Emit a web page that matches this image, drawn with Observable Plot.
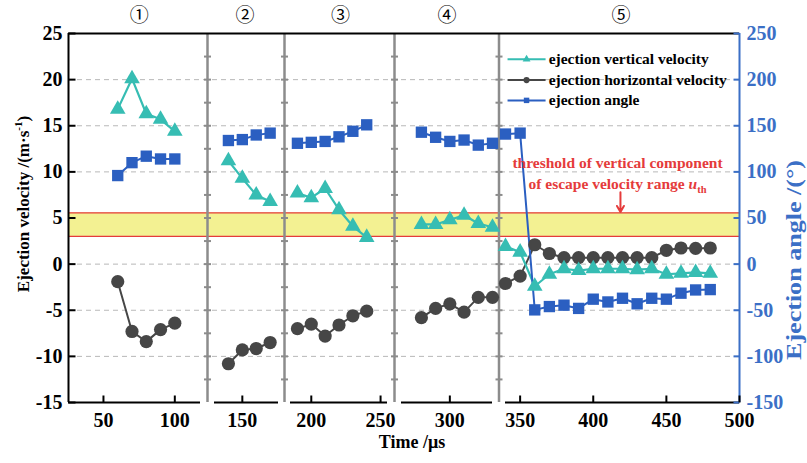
<!DOCTYPE html>
<html>
<head>
<meta charset="utf-8">
<script src="https://cdn.jsdelivr.net/npm/d3@7"></script>
<script src="https://cdn.jsdelivr.net/npm/@observablehq/plot@0.6"></script>
<style>
  html, body { margin: 0; padding: 0; background: #fff; }
  #chart svg { display: block; }
</style>
</head>
<body>
<div id="chart"></div>
<script>
// ---------------- data ----------------
const time = [60,70,80,90,100, 140,150,160,170, 190,200,210,220,230,240, 280,290,300,310,320,330,
              340,350,360,370,380,390,400,410,420,430,440,450,460,470,480];
const stage = [1,1,1,1,1, 2,2,2,2, 3,3,3,3,3,3, 4,4,4,4,4,4,
               5,5,5,5,5,5,5,5,5,5,5,5,5,5,5];
const verticalVelocity = [16.8,20.1,16.3,15.7,14.4, 11.2,9.3,7.5,6.8, 7.7,7.2,8.2,5.9,4.1,2.9, 4.3,4.3,4.8,5.3,4.4,4.0,
              1.9,1.3,-2.4,-1.1,-0.5,-0.7,-0.5,-0.5,-0.5,-0.6,-0.5,-1.1,-1.0,-0.9,-1.0];
const horizontalVelocity = [-1.9,-7.3,-8.4,-7.1,-6.4, -10.8,-9.3,-9.15,-8.5, -7.0,-6.5,-7.8,-6.6,-5.6,-5.1, -5.8,-4.8,-4.3,-5.2,-3.6,-3.6,
              -2.1,-1.3,2.1,1.15,0.7,0.7,0.7,0.7,0.7,0.7,0.7,1.5,1.75,1.7,1.75];
const ejectionAngle = [96,110,117,114,114, 134,135,140,142, 131,132,133,138,144,151, 143,137.5,133,134.5,129,131,
              141,142,-49.6,-46,-44.5,-48,-38,-41,-37,-43,-37,-38,-31.5,-28,-27.6];

const stageLabels = ["①","②","③","④","⑤"];
const stageLabelTime = [75, 152, 221, 298, 419];
const velocityTicks = [-15,-10,-5,0,5,10,15,20,25];
const gridTicks = [-10,-5,0,5,10,15,20];
const timeTicks = [50,100,150,200,250,300,350,400,450,500];
const breakTicks = [-12.5,-10,-7.5,-5,-2.5,0,2.5,5,7.5,10,12.5,15,17.5,20,22.5];
const thresholdRange = [3.0, 5.55];

const seriesNames = ["ejection vertical velocity","ejection horizontal velocity","ejection angle"];
const yTitle = "Ejection velocity /(m·s-1)";
const y2Title = "Ejection angle /(°)";
const xTitle = "Time /μs";
const noteLine1 = "threshold of vertical component";
const noteLine2 = "of escape velocity range uth";

// ---------------- layout (broken time axis) ----------------
const panelTime   = [[25.5,118],[130,176],[185,255],[266,330],[340,500]];
const panelPixels = [[68,200],[214,278],[290,387],[401,492],[505,739]];
const breaks = panelTime.slice(1).map((p, i) => (panelTime[i][1] + p[0]) / 2);
const xDomain = panelTime.flat();
const xRange = panelPixels.flat();
const xMin = xDomain[0], xMax = xDomain[xDomain.length - 1];

const legendTime = {line: [341.4, 367.4], marker: 354.4, text: 369.5};
const legendY = [22.2, 19.95, 17.75];
const note = {x: 416.6, y1: 11.0, y2: 8.72, arrowX: 418.6, arrowTop: 7.8};

// ---------------- styles ----------------
const teal = "#36bdb3", gray = "#464646", blue = "#2b5fc1", axisBlue = "#3b6fc6";
const red = "#e53b3b", bandFill = "#f3f192", breakGray = "#8c8c8c";
const serif = "'Liberation Serif','Times New Roman',serif";

const rows = time.map((t, i) => ({
  time: t, stage: stage[i],
  v: verticalVelocity[i], h: horizontalVelocity[i], angle: ejectionAngle[i]
}));

const hTick = {draw(ctx) { ctx.moveTo(-3.5, 0); ctx.lineTo(3.5, 0); }};
const tickRight = {draw(ctx) { ctx.moveTo(0, 0); ctx.lineTo(7, 0); }};
const tickLeft = {draw(ctx) { ctx.moveTo(0, 0); ctx.lineTo(-6, 0); }};
const tickUp = {draw(ctx) { ctx.moveTo(0, 0); ctx.lineTo(0, -7); }};

const legend = [
  {name: seriesNames[0], color: teal, symbol: "triangle", r: 5.6},
  {name: seriesNames[1], color: gray, symbol: "circle", r: 6.3},
  {name: seriesNames[2], color: blue, symbol: "square", r: 6.2}
].map((d, i) => ({...d, y: legendY[i]}));

const plot = Plot.plot({
  width: 807,
  height: 463,
  marginLeft: 68,
  marginRight: 68,
  marginTop: 33,
  marginBottom: 61,
  style: {fontFamily: serif, background: "#fff"},
  x: {type: "linear", domain: xDomain, range: xRange},
  y: {domain: [-15, 25]},
  marks: [
    Plot.gridY(gridTicks, {stroke: "#9a9a9a", strokeOpacity: 0.7, strokeDasharray: "5,4", strokeWidth: 1}),
    Plot.rect([thresholdRange], {x1: () => xMin, x2: () => xMax, y1: d => d[0], y2: d => d[1], fill: bandFill}),
    Plot.ruleY(thresholdRange, {stroke: red, strokeWidth: 1.3}),
    // broken-axis separators
    Plot.ruleX(breaks, {stroke: breakGray, strokeWidth: 2.5}),
    Plot.dot(d3.cross(breaks, breakTicks), {x: d => d[0], y: d => d[1], symbol: hTick, stroke: breakGray, strokeWidth: 2, fill: "none"}),
    // series
    Plot.line(rows, {x: "time", y: "h", z: "stage", stroke: gray, strokeWidth: 2}),
    Plot.line(rows, {x: "time", y: "v", z: "stage", stroke: teal, strokeWidth: 2.2}),
    Plot.line(rows, {x: "time", y: d => d.angle / 10, z: "stage", stroke: blue, strokeWidth: 2}),
    Plot.dot(rows, {x: "time", y: "h", symbol: "circle", r: 6.6, fill: gray}),
    Plot.dot(rows, {x: "time", y: "v", symbol: "triangle", r: 5.8, fill: teal}),
    Plot.dot(rows, {x: "time", y: d => d.angle / 10, symbol: "square", r: 6.4, fill: blue}),
    // frame
    Plot.ruleY([25], {stroke: "#000", strokeWidth: 2}),
    Plot.ruleY(panelTime, {y: () => -15, x1: d => d[0], x2: d => d[1], stroke: "#000", strokeWidth: 2}),
    Plot.ruleX([xMin], {stroke: "#000", strokeWidth: 2}),
    Plot.ruleX([xMax], {stroke: axisBlue, strokeWidth: 2}),
    Plot.dot(velocityTicks, {x: () => xMin, y: d => d, symbol: tickRight, stroke: "#000", strokeWidth: 2, fill: "none"}),
    Plot.dot(velocityTicks, {x: () => xMax, y: d => d, symbol: tickLeft, stroke: axisBlue, strokeWidth: 2, fill: "none"}),
    Plot.dot(timeTicks, {x: d => d, y: () => -15, symbol: tickUp, stroke: "#000", strokeWidth: 2, fill: "none"}),
    // axis labels
    Plot.axisY({ticks: velocityTicks, tickFormat: d => String(d), tickSize: 0, tickPadding: 6, fontSize: 20, fontWeight: "bold", label: null}),
    Plot.axisY({anchor: "right", ticks: velocityTicks, tickFormat: d => String(d * 10), tickSize: 0, tickPadding: 7,
                color: axisBlue, fontSize: 20, fontWeight: "bold", label: null}),
    Plot.axisX({ticks: timeTicks, tickFormat: d => String(d), tickSize: 0, tickPadding: 10, fontSize: 20, fontWeight: "bold", label: null}),
    // titles
    Plot.text([yTitle], {text: d => d, frameAnchor: "left", textAnchor: "middle", lineAnchor: "middle",
                dx: -45, dy: -14, rotate: -90, fontSize: 17, fontWeight: "bold", fill: "#000"}),
    Plot.text([y2Title], {text: d => d, frameAnchor: "right", textAnchor: "middle", lineAnchor: "middle",
                dx: 55, dy: 42, rotate: -90, fontSize: 21, fontWeight: "bold", fill: axisBlue}),
    Plot.text([xTitle], {text: d => d, frameAnchor: "bottom", textAnchor: "middle", lineAnchor: "middle",
                dx: 8, dy: 40, fontSize: 18, fontWeight: "bold", fill: "#000"}),
    // stage markers
    Plot.text(stageLabels, {x: (d, i) => stageLabelTime[i], y: () => 25, dy: -18, text: d => d,
                fontFamily: "'Noto Sans CJK SC'", fontSize: 19, fill: "#000"}),
    // legend
    Plot.link(legend, {x1: () => legendTime.line[0], x2: () => legendTime.line[1], y1: "y", y2: "y", stroke: "color", strokeWidth: 2}),
    Plot.dot(legend, {x: () => legendTime.marker, y: "y", symbol: "symbol", r: "r", fill: "color"}),
    Plot.text(legend, {x: () => legendTime.text, y: "y", text: "name", textAnchor: "start", fontSize: 15.5, fontWeight: "bold", fill: "#000"}),
    // threshold annotation
    Plot.text([noteLine1], {x: () => note.x, y: () => note.y1, text: d => d, fontSize: 15.5, fontWeight: "bold", fill: red}),
    Plot.text([noteLine2], {x: () => note.x, y: () => note.y2, text: d => d, fontSize: 15.5, fontWeight: "bold", fill: red}),
    Plot.arrow([thresholdRange], {x1: () => note.arrowX, x2: () => note.arrowX, y1: () => note.arrowTop, y2: d => d[1],
                stroke: red, strokeWidth: 2, headLength: 8, insetEnd: 1})
  ]
});

// superscript / subscript and stretched right title
const svg = d3.select(plot);
svg.selectAll("text").each(function () {
  const s = this.textContent;
  const t = d3.select(this);
  if (s === yTitle) {
    t.text(null);
    t.append("tspan").text("Ejection velocity /(m·s");
    t.append("tspan").attr("dy", -7).attr("font-size", 11).text("-1");
    t.append("tspan").attr("dy", 7).text(")");
  } else if (s === noteLine2) {
    t.text(null);
    t.append("tspan").text("of escape velocity range ");
    t.append("tspan").attr("font-style", "italic").text("u");
    t.append("tspan").attr("dy", 4).attr("font-size", 10.5).text("th");
  } else if (s === y2Title) {
    t.attr("textLength", 200).attr("lengthAdjust", "spacingAndGlyphs");
  }
});

document.getElementById("chart").appendChild(plot);
</script>
</body>
</html>
